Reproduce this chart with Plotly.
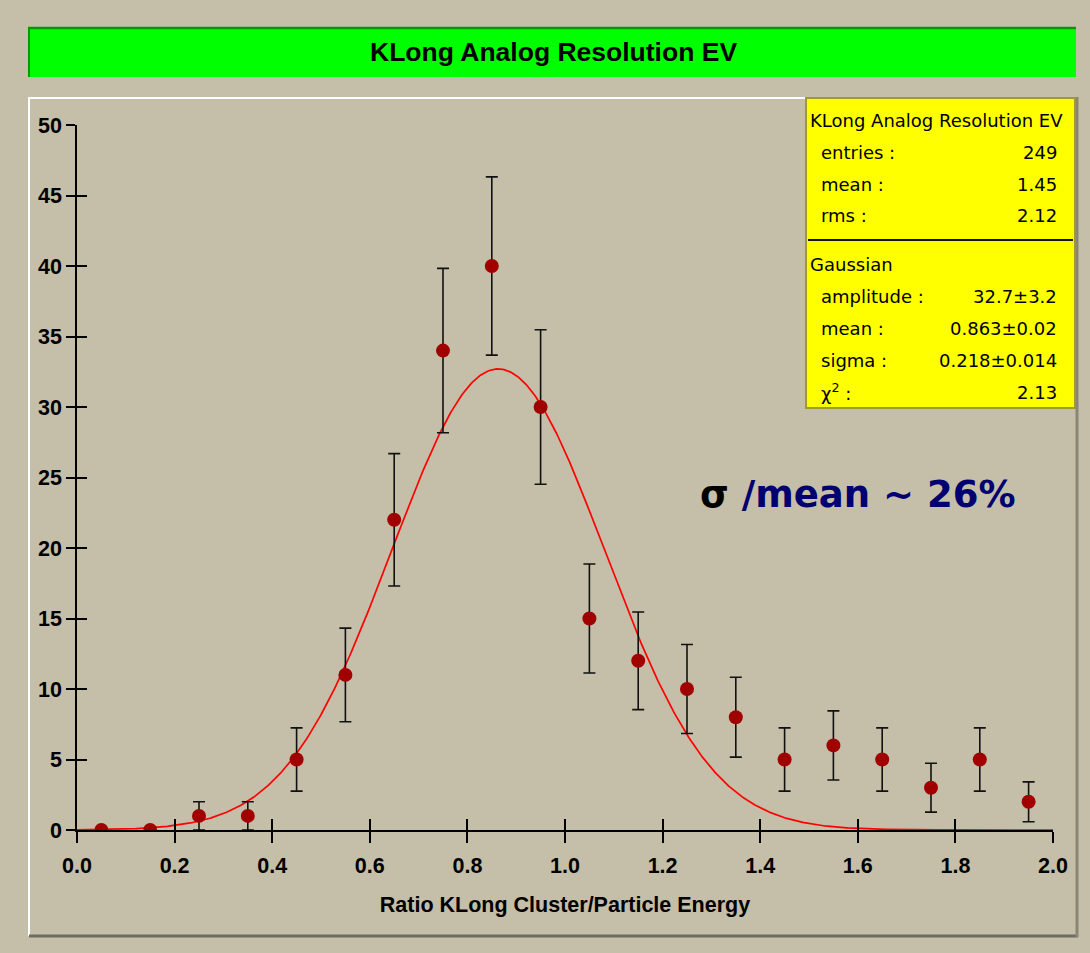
import numpy as np
import plotly.graph_objects as go

# ---------------- data ----------------
bin_centers = [0.05, 0.15, 0.25, 0.35, 0.45, 0.55, 0.65, 0.75, 0.85, 0.95,
               1.05, 1.15, 1.25, 1.35, 1.45, 1.55, 1.65, 1.75, 1.85, 1.95]
counts = [0, 0, 1, 1, 5, 11, 22, 34, 40, 30,
          15, 12, 10, 8, 5, 6, 5, 3, 5, 2]
count_errors = [0, 0, 1.0, 1.0, 2.24, 3.32, 4.69, 5.83, 6.32, 5.48,
                3.87, 3.46, 3.16, 2.83, 2.24, 2.45, 2.24, 1.73, 2.24, 1.41]

fit_amplitude = 32.7
fit_mean = 0.863
fit_sigma = 0.218

x_ticks = [0.0, 0.2, 0.4, 0.6, 0.8, 1.0, 1.2, 1.4, 1.6, 1.8, 2.0]
y_ticks = [0, 5, 10, 15, 20, 25, 30, 35, 40, 45, 50]

title_text = "KLong Analog Resolution EV"
x_title = "Ratio KLong Cluster/Particle Energy"

stats_labels = ["entries :", "mean :", "rms :"]
stats_values = ["249", "1.45", "2.12"]
fit_labels = ["amplitude :", "mean :", "sigma :", "χ<sup>2</sup> :"]
fit_values = ["32.7±3.2", "0.863±0.02", "0.218±0.014", "2.13"]

# ---------------- layout geometry ----------------
W, H = 1090, 953
L, R, T, B = 77, 1053, 125, 830


def fx(px):
    return (px - L) / (R - L)


def fy(py):
    return (B - py) / (B - T)


BG = "#C5BEA8"
fig = go.Figure()

# gaussian fit curve
xc = np.linspace(0, 2, 801)
yc = fit_amplitude * np.exp(-0.5 * ((xc - fit_mean) / fit_sigma) ** 2)
fig.add_trace(go.Scatter(x=xc, y=yc, mode="lines",
                         line=dict(color="#FF0000", width=1.7),
                         hoverinfo="skip", showlegend=False))

# data points with error bars
fig.add_trace(go.Scatter(
    x=bin_centers, y=counts, mode="markers",
    marker=dict(color="#A00000", size=14, line=dict(width=0)),
    error_y=dict(type="data", array=count_errors, visible=True,
                 color="#111111", thickness=1.6, width=6),
    showlegend=False))

# invisible trace for inner-tick overlay axes
fig.add_trace(go.Scatter(x=[0], y=[0], xaxis="x2", yaxis="y2", mode="markers",
                         marker=dict(size=1, color="rgba(0,0,0,0)"),
                         hoverinfo="skip", showlegend=False))

tickfont = dict(family="Liberation Sans", size=21.5, color="black", weight="bold")

fig.update_layout(
    width=W, height=H,
    margin=dict(l=L, r=W - R, t=T, b=H - B),
    paper_bgcolor=BG, plot_bgcolor=BG,
    xaxis=dict(range=[0, 2], tickvals=x_ticks, tickformat=".1f",
               ticks="outside", ticklen=11, tickwidth=1.5, tickcolor="black",
               ticklabelstandoff=4,
               showline=True, linecolor="black", linewidth=1.5,
               showgrid=False, zeroline=False, tickfont=tickfont,
               title=dict(text=x_title, standoff=20,
                          font=dict(family="Liberation Sans", size=21.5,
                                    color="black", weight="bold"))),
    yaxis=dict(range=[0, 50], tickvals=y_ticks,
               ticks="outside", ticklen=9, tickwidth=1.5, tickcolor="black",
               showline=True, linecolor="black", linewidth=1.5,
               showgrid=False, zeroline=False, tickfont=tickfont),
    xaxis2=dict(range=[0, 2], tickvals=x_ticks, overlaying="x", anchor="y2",
                side="bottom", ticks="inside", ticklen=11, tickwidth=1.5,
                tickcolor="black", showticklabels=False, showgrid=False,
                zeroline=False, showline=False),
    yaxis2=dict(range=[0, 50], tickvals=y_ticks, overlaying="y", anchor="x2",
                side="left", ticks="inside", ticklen=10, tickwidth=1.5,
                tickcolor="black", showticklabels=False, showgrid=False,
                zeroline=False, showline=False),
)

shapes = []
# panel bevel
shapes.append(dict(type="line", xref="paper", yref="paper",
                   x0=fx(29), x1=fx(29), y0=fy(97), y1=fy(936),
                   line=dict(color="#FFFFFF", width=2), layer="below"))
shapes.append(dict(type="line", xref="paper", yref="paper",
                   x0=fx(29), x1=fx(1077), y0=fy(98), y1=fy(98),
                   line=dict(color="#FFFFFF", width=2), layer="below"))
shapes.append(dict(type="line", xref="paper", yref="paper",
                   x0=fx(29), x1=fx(1078), y0=fy(936), y1=fy(936),
                   line=dict(color="#6E6B60", width=3), layer="below"))
shapes.append(dict(type="line", xref="paper", yref="paper",
                   x0=fx(1077), x1=fx(1077), y0=fy(97), y1=fy(937),
                   line=dict(color="#8A8675", width=3), layer="below"))
# title bar
shapes.append(dict(type="rect", xref="paper", yref="paper",
                   x0=fx(28), x1=fx(1076), y0=fy(77), y1=fy(27),
                   fillcolor="#00FF00", line=dict(width=0)))
shapes.append(dict(type="line", xref="paper", yref="paper",
                   x0=fx(28), x1=fx(1076), y0=fy(28), y1=fy(28),
                   line=dict(color="#009A00", width=2.5)))
shapes.append(dict(type="line", xref="paper", yref="paper",
                   x0=fx(29), x1=fx(29), y0=fy(77), y1=fy(27),
                   line=dict(color="#009A00", width=2)))
# stats box
shapes.append(dict(type="rect", xref="paper", yref="paper",
                   x0=fx(806), x1=fx(1075), y0=fy(408), y1=fy(98),
                   fillcolor="#FFFF00", line=dict(color="#9C9C2C", width=2),
                   layer="above"))
shapes.append(dict(type="line", xref="paper", yref="paper",
                   x0=fx(808), x1=fx(1073), y0=fy(240), y1=fy(240),
                   line=dict(color="#111111", width=2), layer="above"))
fig.update_layout(shapes=shapes)

ann = []
ann.append(dict(text=title_text, xref="paper", yref="paper",
                x=fx(553), y=fy(52), xanchor="center", yanchor="middle",
                showarrow=False,
                font=dict(family="Liberation Sans", size=26.5, color="black",
                          weight="bold")))

sfont = dict(family="DejaVu Sans", size=18, color="black")
ann.append(dict(text=title_text, xref="paper", yref="paper",
                x=fx(808), y=fy(120), xanchor="left", yanchor="middle",
                showarrow=False, font=sfont))
for i, (lab, val) in enumerate(zip(stats_labels, stats_values)):
    yy = 152 + 32 * i
    ann.append(dict(text=lab, xref="paper", yref="paper", x=fx(819), y=fy(yy),
                    xanchor="left", yanchor="middle", showarrow=False, font=sfont))
    ann.append(dict(text=val, xref="paper", yref="paper", x=fx(1059), y=fy(yy),
                    xanchor="right", yanchor="middle", showarrow=False, font=sfont))
ann.append(dict(text="Gaussian", xref="paper", yref="paper",
                x=fx(808), y=fy(264), xanchor="left", yanchor="middle",
                showarrow=False, font=sfont))
for i, (lab, val) in enumerate(zip(fit_labels, fit_values)):
    yy = 296 + 32 * i
    ann.append(dict(text=lab, xref="paper", yref="paper", x=fx(819), y=fy(yy),
                    xanchor="left", yanchor="middle", showarrow=False, font=sfont))
    ann.append(dict(text=val, xref="paper", yref="paper", x=fx(1059), y=fy(yy),
                    xanchor="right", yanchor="middle", showarrow=False, font=sfont))

ann.append(dict(text="<span style='color:black'>σ</span> /mean ~ 26%",
                xref="paper", yref="paper", x=fx(698), y=fy(494),
                xanchor="left", yanchor="middle", showarrow=False,
                font=dict(family="DejaVu Sans", size=37, color="#000070",
                          weight="bold")))
fig.update_layout(annotations=ann)

fig.write_html("out.html")
